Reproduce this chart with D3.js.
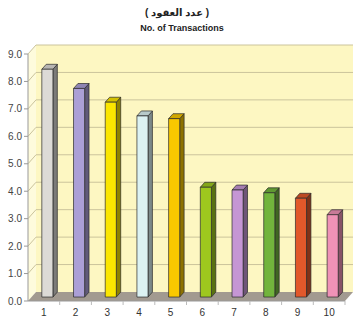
<!DOCTYPE html>
<html>
<head>
<meta charset="utf-8">
<script src="https://cdn.jsdelivr.net/npm/d3@7"></script>
<style>
  body { margin: 0; background: #fff; }
  text { font-family: Arial, "Liberation Sans", "DejaVu Sans", sans-serif; }
</style>
</head>
<body>
<div id="chart"></div>
<script>
// data
const categories = ["1", "2", "3", "4", "5", "6", "7", "8", "9", "10"];
const values = [8.3, 7.6, 7.1, 6.6, 6.5, 4.0, 3.9, 3.8, 3.6, 3.0];
const barColors = ["#dcdad6", "#ab9fd6", "#fbe600", "#dcf2f2", "#f9c800",
                   "#9ec81e", "#c596d4", "#72b43c", "#e2582a", "#ef92b6"];
const yTicks = [0, 1, 2, 3, 4, 5, 6, 7, 8, 9];

const width = 355, height = 317;
const plot = {left: 28, right: 345, bottom: 301, top: 54};
// depth of the box and where the bars sit inside it
const depth = {dx: 8, dy: -9};
const barFront = 0.44, barDepth = 0.55;

const svg = d3.select("#chart").append("svg")
  .attr("width", width)
  .attr("height", height);

const x = d3.scaleBand()
  .domain(categories)
  .range([plot.left, plot.right])
  .paddingInner(0.65)
  .paddingOuter(0.325);

const y = d3.scaleLinear()
  .domain([0, 9])
  .range([plot.bottom, plot.top]);

// point in the 3D box: px, value, depth fraction
function pt(px, v, f) {
  return [px + f * depth.dx, y(v) + f * depth.dy];
}
function poly(points) {
  return points.map(p => p.join(",")).join(" ");
}

// titles
svg.append("text")
  .attr("x", 177).attr("y", 16)
  .attr("text-anchor", "middle")
  .attr("font-size", "10px").attr("font-weight", "bold")
  .attr("fill", "#222")
  .text("( عدد العقود )");

svg.append("text")
  .attr("x", 182).attr("y", 31)
  .attr("text-anchor", "middle")
  .attr("font-size", "9px").attr("font-weight", "bold")
  .attr("fill", "#222")
  .text("No. of Transactions");

// walls
svg.append("polygon")
  .attr("points", poly([pt(plot.left, 9, 1), pt(plot.right, 9, 1), pt(plot.right, 0, 1), pt(plot.left, 0, 1)]))
  .attr("fill", "#fdf7c2");

svg.append("polygon")
  .attr("points", poly([pt(plot.left, 9, 0), pt(plot.left, 9, 1), pt(plot.left, 0, 1), pt(plot.left, 0, 0)]))
  .attr("fill", "#fefbdc");

// gridlines on back and side walls
const grid = svg.append("g").attr("stroke", "#cbc49c").attr("stroke-width", 1);
yTicks.slice(1).forEach(v => {
  grid.append("polyline")
    .attr("fill", "none")
    .attr("points", poly([pt(plot.left, v, 0), pt(plot.left, v, 1), pt(plot.right, v, 1)]));
});

// floor
svg.append("polygon")
  .attr("points", poly([pt(plot.left, 0, 0), pt(plot.right, 0, 0), pt(plot.right, 0, 1), pt(plot.left, 0, 1)]))
  .attr("fill", "#a29a90");

// y axis
const yAxis = svg.append("g");
yAxis.append("line")
  .attr("x1", plot.left).attr("x2", plot.left)
  .attr("y1", y(9)).attr("y2", y(0))
  .attr("stroke", "#999");
yTicks.forEach(v => {
  yAxis.append("line")
    .attr("x1", plot.left - 4).attr("x2", plot.left)
    .attr("y1", y(v)).attr("y2", y(v))
    .attr("stroke", "#999");
  yAxis.append("text")
    .attr("x", plot.left - 6).attr("y", y(v))
    .attr("dy", "0.35em")
    .attr("text-anchor", "end")
    .attr("font-size", "10px")
    .attr("fill", "#444")
    .text(d3.format(".1f")(v));
});

// x axis
const xAxis = svg.append("g");
xAxis.append("line")
  .attr("x1", plot.left).attr("x2", plot.right)
  .attr("y1", plot.bottom).attr("y2", plot.bottom)
  .attr("stroke", "#999");
categories.forEach((c, i) => {
  const x0 = x(c) - x.step() * x.paddingInner() / 2;
  xAxis.append("line")
    .attr("x1", x0 + x.step()).attr("x2", x0 + x.step())
    .attr("y1", plot.bottom).attr("y2", plot.bottom + 4)
    .attr("stroke", "#bbb");
  xAxis.append("text")
    .attr("x", x(c) + x.bandwidth() / 2)
    .attr("y", 316)
    .attr("text-anchor", "middle")
    .attr("font-size", "10px")
    .attr("fill", "#333")
    .text(c);
});

// bars
const bars = svg.append("g").selectAll("g")
  .data(values)
  .join("g");

bars.each(function(v, i) {
  const g = d3.select(this);
  const c = d3.color(barColors[i]);
  const x0 = x(categories[i]), x1 = x0 + x.bandwidth();
  const f0 = barFront, f1 = barFront + barDepth;
  // side face
  g.append("polygon")
    .attr("points", poly([pt(x1, 0, f0), pt(x1, v, f0), pt(x1, v, f1), pt(x1, 0, f1)]))
    .attr("fill", c.darker(1.6))
    .attr("stroke", "#2a2a2a").attr("stroke-width", 0.7);
  // top face
  g.append("polygon")
    .attr("points", poly([pt(x0, v, f0), pt(x1, v, f0), pt(x1, v, f1), pt(x0, v, f1)]))
    .attr("fill", c.darker(0.5))
    .attr("stroke", "#2a2a2a").attr("stroke-width", 0.7);
  // front face
  g.append("polygon")
    .attr("points", poly([pt(x0, 0, f0), pt(x1, 0, f0), pt(x1, v, f0), pt(x0, v, f0)]))
    .attr("fill", c)
    .attr("stroke", "#2a2a2a").attr("stroke-width", 0.7);
});
</script>
</body>
</html>
